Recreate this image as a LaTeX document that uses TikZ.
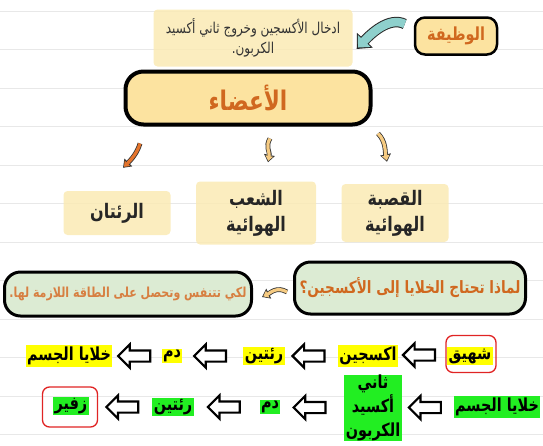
\documentclass[tikz,border=0pt]{standalone}
\usepackage{fontspec}
\usetikzlibrary{arrows.meta,shapes.arrows,calc}
\newfontfamily\arabicfont[Script=Arabic,FakeStretch=0.8]{DejaVu Sans}
\TeXXeTstate=1
\newcommand{\artext}[1]{\beginR #1\endR}
\definecolor{ruleline}{HTML}{E8E8E8}
\definecolor{boxyellow}{HTML}{FCE3A0}
\definecolor{titleorange}{HTML}{D0681F}
\definecolor{hlyellow}{HTML}{FAEAB4}
\definecolor{qgreen}{HTML}{DCEBD3}
\definecolor{arrteal}{HTML}{8ED0CC}
\definecolor{arrorange}{HTML}{E4742C}
\definecolor{arrtan}{HTML}{F6CB82}
\definecolor{markyellow}{HTML}{FFFF00}
\definecolor{markgreen}{HTML}{22EE22}
\definecolor{circred}{HTML}{E02424}

\begin{document}
\begin{tikzpicture}[x=1pt,y=-1pt,every node/.style={align=center,font=\arabicfont\bfseries},
	rule/.style={draw=ruleline,line width=0.8pt},
	titlebox/.style={draw,rounded corners=10pt,fill=boxyellow,text=titleorange},
	brush/.style={fill=hlyellow,fill opacity=0.85,text opacity=1,rounded corners=4pt},
	organ/.style={brush,xshift=8pt,inner xsep=14pt,inner ysep=4pt,text=black!85,font=\arabicfont\bfseries\fontsize{20}{26}\selectfont},
	qbox/.style={draw,line width=3pt,rounded corners=16pt,fill=qgreen,text=titleorange},
	yword/.style={fill=markyellow,inner sep=1.5pt,font=\arabicfont\bfseries\fontsize{18}{24}\selectfont},
	gword/.style={yword,fill=markgreen},
	ring/.style={draw=circred,line width=1.3pt,rounded corners=7pt},
	blockarrow/.style={single arrow,draw,line width=2.2pt,fill=white,minimum height=32pt,single arrow head extend=6pt,inner sep=4.5pt,shape border rotate=180},
	curvy/.style={draw=#1,line width=3.2pt,-{Triangle[length=5pt,width=7.5pt]},shorten >=1.4pt,preaction={draw=black!80,line width=4.8pt,-{Triangle[length=7.5pt,width=10.5pt]},shorten >=0pt}},
	bigcurvy/.style={draw=#1,line width=8.5pt,-{Triangle[length=9pt,width=17pt]},shorten >=2pt,preaction={draw=black!85,line width=10.5pt,-{Triangle[length=12pt,width=21pt]},shorten >=0pt}}]
	\useasboundingbox (0,0) rectangle (543,445);
	\foreach \y in {11,49.5,...,435}
		\draw[rule] (0,\y) -- (543,\y);

	\node[brush,minimum width=199pt,minimum height=57pt,text=black!80,font=\arabicfont\fontsize{15}{20}\selectfont] (fntext) at (253,38) {\artext{ادخال الأكسجين وخروج ثاني أكسيد}\\\artext{الكربون.}};
	\node[titlebox,line width=2.5pt,minimum width=82pt,minimum height=37pt,font=\arabicfont\bfseries\fontsize{18}{22}\selectfont] (fn) at (456,36) {\artext{الوظيفة}};
	\draw[bigcurvy=arrteal] ([shift={(-9,-12)}]fn.west) .. controls +(-16,-8) and +(13,-14) .. ([shift={(4,11)}]fntext.east);

	\node[titlebox,line width=4pt,rounded corners=18pt,minimum width=245pt,minimum height=53pt,font=\arabicfont\bfseries\fontsize{27}{30}\selectfont] (organs) at (248,98) {\artext{الأعضاء}}
		[level distance=115pt,sibling distance=139pt,edge from parent/.style={draw=none}]
		child
		{
			node[organ,minimum width=107pt,minimum height=44pt] (lungs) {\artext{الرئتان}}
		}
		child
		{
			node[organ,minimum width=120pt,minimum height=63pt] (bronchi) {\artext{الشعب}\\\artext{الهوائية}}
		}
		child
		{
			node[organ,minimum width=107pt,minimum height=58pt] (trachea) {\artext{القصبة}\\\artext{الهوائية}}
		};
	\draw[curvy=arrorange] ([shift={(-108,17)}]organs.south) .. controls +(-3,10) and +(8,-8) .. ([shift={(6,-23)}]lungs.north);
	\draw[curvy=arrtan] ([shift={(22,12)}]organs.south) .. controls +(-5,8) and +(2,-10) .. ([shift={(12,-19)}]bronchi.north);
	\draw[curvy=arrtan] ([shift={(130,7)}]organs.south) .. controls +(8,8) and +(-2,-10) .. ([shift={(-8,-22)}]trachea.north);

	\node[qbox,minimum width=231pt,minimum height=52pt,font=\arabicfont\bfseries\fontsize{17}{20}\selectfont] (why) at (410,288) {\artext{لماذا تحتاج الخلايا إلى الأكسجين؟}};
	\node[qbox,minimum width=247pt,minimum height=44pt,text=titleorange!85!white,font=\arabicfont\bfseries\fontsize{13.8}{16}\selectfont] (because) at (128,294) {\artext{لكي تتنفس وتحصل على الطاقة اللازمة لها.}};
	\draw[curvy=arrtan] ([shift={(-6,4)}]why.west) .. controls +(-10,-6) and +(8,-4) .. ([shift={(9,3)}]because.east);

	\node[yword] (inhale) at (470,356) {\artext{شهيق}};
	\node[ring,minimum width=50pt,minimum height=37pt] (inhalering) at (471,354) {};
	\node[yword] (oxy) at (368,356) {\artext{اكسجين}};
	\node[yword] (lungA) at (264,356) {\artext{رئتين}};
	\node[yword] (bloodA) at (172,356) {\artext{دم}};
	\node[yword] (cellsA) at (69,356) {\artext{خلايا الجسم}};

	\node[gword] (cellsB) at (497,407) {\artext{خلايا الجسم}};
	\node[gword,inner ysep=0pt] (co2) at (373,408) {\artext{ثاني}\\\artext{أكسيد}\\\artext{الكربون}};
	\node[gword] (bloodB) at (270,407) {\artext{دم}};
	\node[gword] (lungB) at (173,407) {\artext{رئتين}};
	\node[gword] (exhale) at (71,406) {\artext{زفير}};
	\node[ring,minimum width=55pt,minimum height=40pt] (exhalering) at (70,407) {};

	\foreach \a/\b in {inhalering/oxy,oxy/lungA,lungA/bloodA,bloodA/cellsA,cellsB/co2,co2/bloodB,bloodB/lungB,lungB/exhalering}
		\node[blockarrow] (arr\a) at ($(\a.west)!.5!(\b.east)$) {};
\end{tikzpicture}
\end{document}
